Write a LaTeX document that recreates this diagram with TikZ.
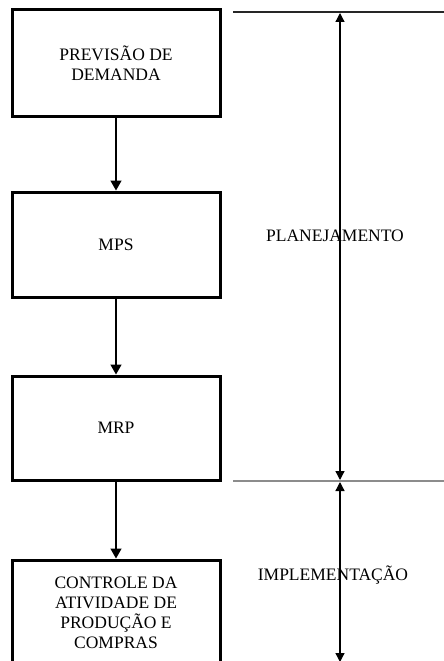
\documentclass[tikz,border=0pt]{standalone}
\usepackage{fontspec}
\setmainfont{Liberation Serif}
\usetikzlibrary{arrows.meta}
\begin{document}
\begin{tikzpicture}[x=1pt,y=-1pt,
  stage/.style={draw=black, line width=3pt, minimum width=208pt, align=center,
    font=\fontsize{17.5}{20}\selectfont, inner sep=0pt},
  flow/.style={line width=1.4pt, -{Triangle[length=10pt,width=11pt]}},
  span/.style={line width=1.3pt, {Triangle[length=9pt,width=9pt]}-{Triangle[length=9pt,width=9pt]}},
  phase/.style={font=\fontsize{17.5}{20}\selectfont, inner sep=0pt}]
\useasboundingbox (0,0) rectangle (444,661);
\clip (0,0) rectangle (444,661);

% process stages
\node[stage, minimum height=106pt] (prev) at (116,63) {PREVISÃO DE\\DEMANDA};
\node[stage, minimum height=105pt] (mps) at (116,244.5) {MPS};
\node[stage, minimum height=104pt] (mrp) at (116,428) {MRP};
\node[stage, minimum height=106pt] (ctrl) at (116,613) {CONTROLE DA\\ATIVIDADE DE\\PRODUÇÃO E\\COMPRAS};

\draw[flow] (prev) -- (mps);
\draw[flow] (mps) -- (mrp);
\draw[flow] (mrp) -- (ctrl);

% phase limits
\coordinate (topL) at (233,12);
\coordinate (topR) at (444,12);
\coordinate (midL) at (233,481);
\coordinate (midR) at (444,481);
\coordinate (planTop) at (340,13);
\coordinate (planBot) at (340,480);
\coordinate (implTop) at (340,482);
\coordinate (implBot) at (340,662);
\draw[line width=1.3pt, black!85] (topL) -- (topR);
\draw[line width=2pt, black!45] (midL) -- (midR);

\draw[span] (planTop) -- (planBot);
\draw[span] (implTop) -- (implBot);

\node[phase] (plan) at (335,236) {PLANEJAMENTO};
\node[phase] (impl) at (333,575) {IMPLEMENTAÇÃO};
\end{tikzpicture}
\end{document}
